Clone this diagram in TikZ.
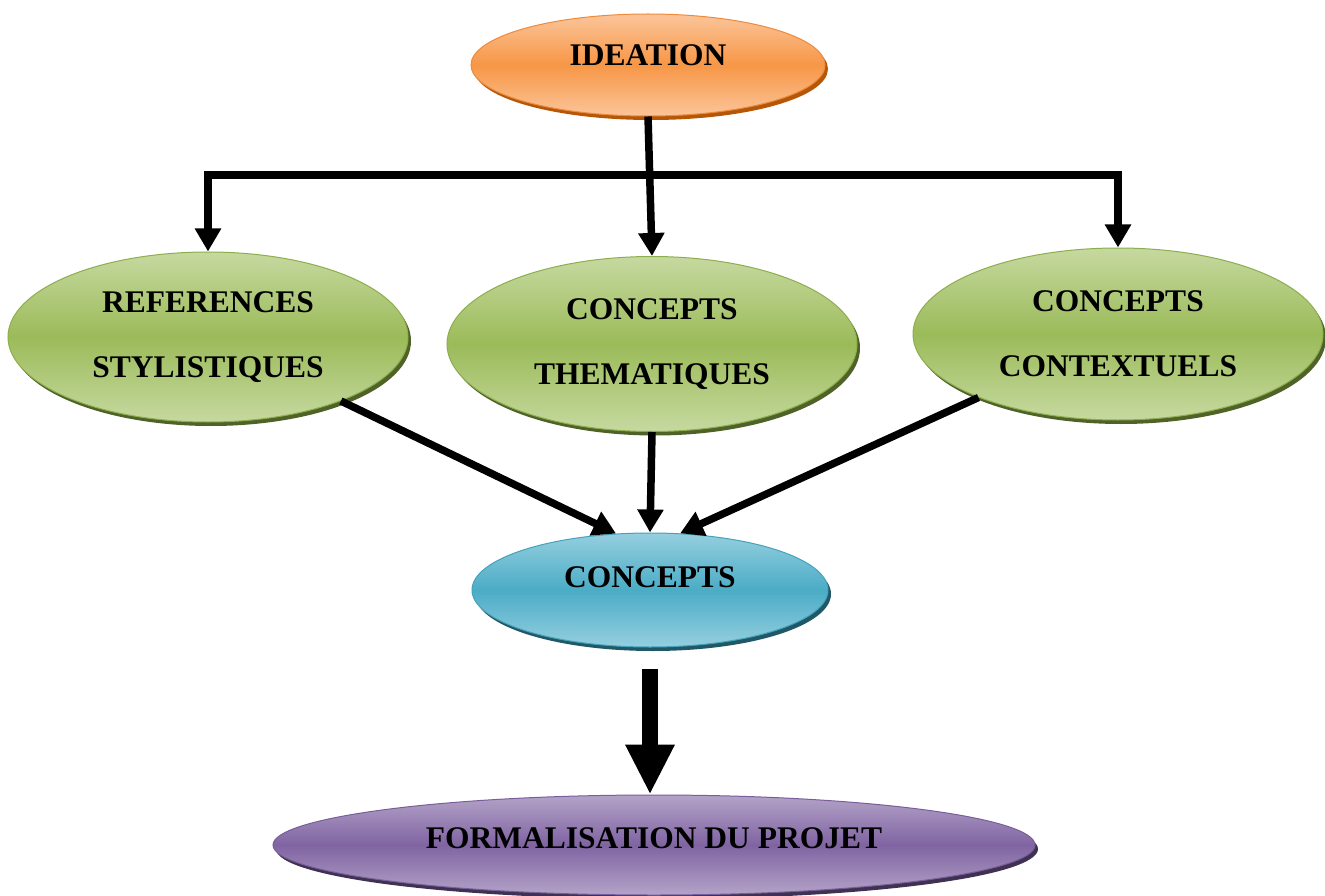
\documentclass[tikz,border=0pt]{standalone}
\usepackage{fontspec}
\setmainfont{Liberation Serif}
\usetikzlibrary{shapes.geometric,shadows,arrows.meta}
\definecolor{orangemid}{HTML}{F79646}
\definecolor{orangelight}{HTML}{FBC59A}
\definecolor{orangeline}{HTML}{EE8A3C}
\definecolor{orangedark}{HTML}{B65708}
\definecolor{greenmid}{HTML}{9BBB59}
\definecolor{greenlight}{HTML}{C6D9A0}
\definecolor{greenline}{HTML}{8DAE4C}
\definecolor{greendark}{HTML}{4F6228}
\definecolor{bluemid}{HTML}{4BACC6}
\definecolor{bluelight}{HTML}{95CFDF}
\definecolor{blueline}{HTML}{45A2BB}
\definecolor{bluedark}{HTML}{215867}
\definecolor{purplemid}{HTML}{8064A2}
\definecolor{purplelight}{HTML}{B3A3C8}
\definecolor{purpleline}{HTML}{7A5E9C}
\definecolor{purpledark}{HTML}{3F3151}
\begin{document}
\begin{tikzpicture}[x=1pt,y=-1pt,
    >={Triangle[width=25pt,length=23pt]},
    bubble/.style={ellipse,inner sep=0pt,align=center,line width=1pt,
        font=\fontsize{31.5}{65}\selectfont\bfseries},
    ideabox/.style={bubble,draw=orangeline,top color=orangelight,bottom color=orangelight,middle color=orangemid,
        drop shadow={shadow xshift=3pt,shadow yshift=-4pt,opacity=1,fill=orangedark}},
    greenbox/.style={bubble,draw=greenline,top color=greenlight,bottom color=greenlight,middle color=greenmid,
        drop shadow={shadow xshift=3pt,shadow yshift=-4pt,opacity=1,fill=greendark}},
    bluebox/.style={bubble,draw=blueline,top color=bluelight,bottom color=bluelight,middle color=bluemid,
        drop shadow={shadow xshift=3pt,shadow yshift=-4pt,opacity=1,fill=bluedark}},
    purplebox/.style={bubble,draw=purpleline,top color=purplelight,bottom color=purplelight,middle color=purplemid,
        drop shadow={shadow xshift=3pt,shadow yshift=-4pt,opacity=1,fill=purpledark}},
    link/.style={->,line width=7.5pt},
    bigarrow/.style={-{Triangle[width=46pt,length=50pt]},line width=16pt}]
    \useasboundingbox (0,0) rectangle (1325,896);
    % ellipses
    \node[ideabox,minimum width=354pt,minimum height=102pt,text depth=20pt] (idea) at (648,65) {IDEATION};
    \node[greenbox,minimum width=400pt,minimum height=170pt] (ref) at (208,337) {REFERENCES\\STYLISTIQUES};
    \node[greenbox,minimum width=410pt,minimum height=175pt] (them) at (652,344) {CONCEPTS\\THEMATIQUES};
    \node[greenbox,minimum width=410pt,minimum height=172pt] (ctx) at (1118,334) {CONCEPTS\\CONTEXTUELS};
    \node[bluebox,minimum width=356pt,minimum height=114pt,text depth=26pt] (conc) at (650,590) {CONCEPTS};
    \node[purplebox,minimum width=762pt,minimum height=100pt,text depth=14pt] (form) at (654,845) {FORMALISATION DU PROJET};
    % arrows
    \coordinate (split) at (650,175);
    \draw[link] (idea.south) -- (them.north);
    \draw[link] (split) -| (ref.north);
    \draw[link] (split) -| (ctx.north);
    \draw[link] (ref) -- (conc.121);
    \draw[link] (them.south) -- (conc.north);
    \draw[link] (ctx) -- (conc.62);
    \draw[bigarrow,shorten <=21pt] (conc.south) -- (conc.south |- form.north);
\end{tikzpicture}
\end{document}
